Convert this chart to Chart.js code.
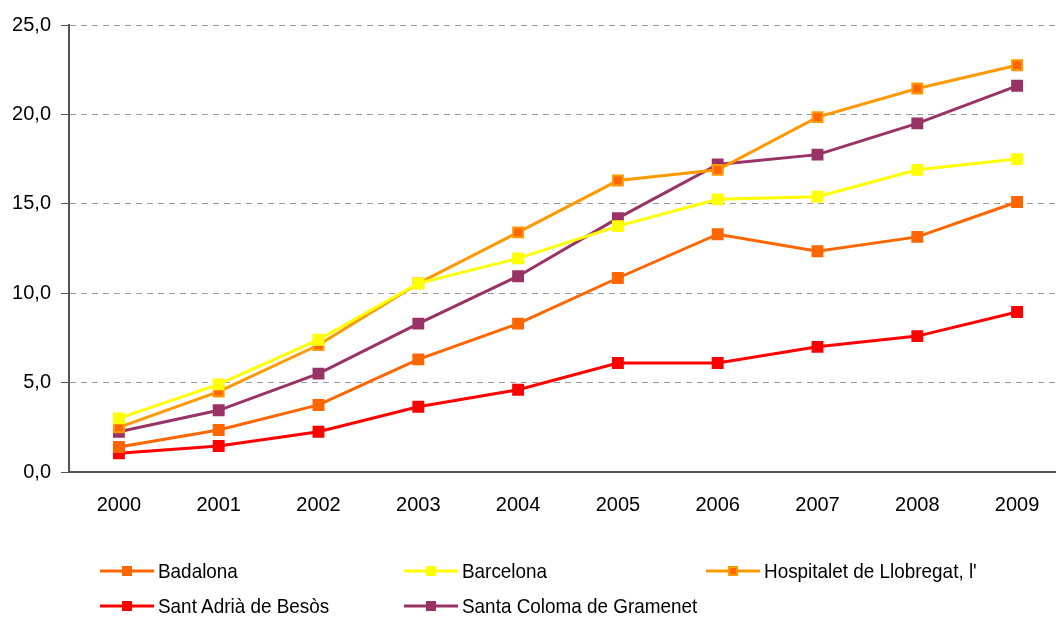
<!DOCTYPE html>
<html>
<head>
<meta charset="utf-8">
<script src="https://cdn.jsdelivr.net/npm/chart.js@4"></script>
<style>
  html, body { margin: 0; padding: 0; background: #fff; overflow: hidden; }
  #wrap { position: relative; width: 1056px; height: 617px; overflow: hidden; }
  #chart { position: absolute; left: 0; top: 0; }
  #legend { position: absolute; left: 0; top: 0; width: 1056px; height: 617px; pointer-events: none; }
  .item { position: absolute; display: flex; align-items: center; font-family: "Liberation Sans", Arial, sans-serif; font-size: 21px; color: #000; white-space: nowrap; }
  .item canvas { margin-right: 4px; }
  .item span { display: inline-block; transform: scaleX(0.9); transform-origin: left center; }
</style>
</head>
<body>
<div id="wrap">
  <canvas id="chart" width="1076" height="540"></canvas>
  <div id="legend"></div>
</div>
<script>
const years = ["2000", "2001", "2002", "2003", "2004", "2005", "2006", "2007", "2008", "2009"];
const badalona = [1.4, 2.35, 3.75, 6.3, 8.3, 10.85, 13.3, 12.35, 13.15, 15.1];
const barcelona = [3.0, 4.9, 7.4, 10.55, 11.95, 13.75, 15.25, 15.4, 16.9, 17.5];
const hospitalet = [2.5, 4.5, 7.1, 10.55, 13.4, 16.3, 16.9, 19.85, 21.45, 22.75];
const santAdria = [1.05, 1.45, 2.25, 3.65, 4.6, 6.1, 6.1, 7.0, 7.6, 8.95];
const santaColoma = [2.25, 3.45, 5.5, 8.3, 10.95, 14.2, 17.2, 17.75, 19.5, 21.6];
const yTicks = [0, 5, 10, 15, 20, 25];

const FONT = "'Liberation Sans', Arial, sans-serif";

function series(label, data, line, fill) {
  return {
    label: label,
    data: data,
    borderColor: line,
    backgroundColor: line,
    borderWidth: 3,
    pointStyle: "rect",
    pointRadius: 7,
    pointHoverRadius: 7,
    pointBackgroundColor: fill || line,
    pointBorderColor: line,
    pointBorderWidth: 2,
    tension: 0
  };
}

// draw order: later datasets on top
const datasets = [
  series("Badalona", badalona, "#FF6600"),
  series("Barcelona", barcelona, "#FFFF00"),
  series("Hospitalet de Llobregat, l'", hospitalet, "#FF9900", "#FF6600"),
  series("Sant Adrià de Besòs", santAdria, "#FF0000"),
  series("Santa Coloma de Gramenet", santaColoma, "#993366")
];

const ctx = document.getElementById("chart").getContext("2d");

new Chart(ctx, {
  type: "line",
  data: { labels: years, datasets: datasets },
  options: {
    responsive: false,
    animation: false,
    layout: { padding: { top: 25, right: 1, left: 0, bottom: 0 } },
    plugins: {
      legend: { display: false },
      tooltip: { enabled: false }
    },
    scales: {
      x: {
        offset: true,
        grid: { display: false, drawTicks: false },
        border: { display: true, color: "#555", width: 2 },
        ticks: { color: "#000", font: { family: FONT, size: 20 }, padding: 21 },
        afterFit: function (scale) { scale.height = 68; }
      },
      y: {
        min: 0,
        max: 25,
        afterBuildTicks: function (scale) { scale.ticks = yTicks.map(v => ({ value: v })); },
        afterFit: function (scale) { scale.width = 69; },
        grid: {
          color: function (c) { return c.tick && c.tick.value === 0 ? "rgba(0,0,0,0)" : "#9a9a9a"; },
          lineWidth: 1,
          drawTicks: true,
          tickLength: 8,
          tickColor: "#555"
        },
        border: { display: true, color: "#555", width: 2, dash: [6, 5] },
        ticks: {
          color: "#000",
          font: { family: FONT, size: 20 },
          padding: 10,
          callback: function (v) { return v.toFixed(1).replace(".", ","); }
        }
      }
    }
  }
});

// legend in three columns, like the original
const legendSlots = [[100, 571], [404, 571], [706, 571], [100, 606], [404, 606]];
const legendEl = document.getElementById("legend");
datasets.forEach(function (ds, i) {
  const item = document.createElement("div");
  item.className = "item";
  item.style.left = legendSlots[i][0] + "px";
  item.style.top = (legendSlots[i][1] - 12) + "px";
  const c = document.createElement("canvas");
  c.width = 54; c.height = 24;
  const g = c.getContext("2d");
  g.strokeStyle = ds.borderColor;
  g.lineWidth = 3;
  g.beginPath(); g.moveTo(0, 12); g.lineTo(54, 12); g.stroke();
  g.fillStyle = ds.pointBorderColor;
  g.fillRect(22, 7, 10, 10);
  g.fillStyle = ds.pointBackgroundColor;
  g.fillRect(24, 9, 6, 6);
  item.appendChild(c);
  const t = document.createElement("span");
  t.textContent = ds.label;
  item.appendChild(t);
  legendEl.appendChild(item);
});
</script>
</body>
</html>
